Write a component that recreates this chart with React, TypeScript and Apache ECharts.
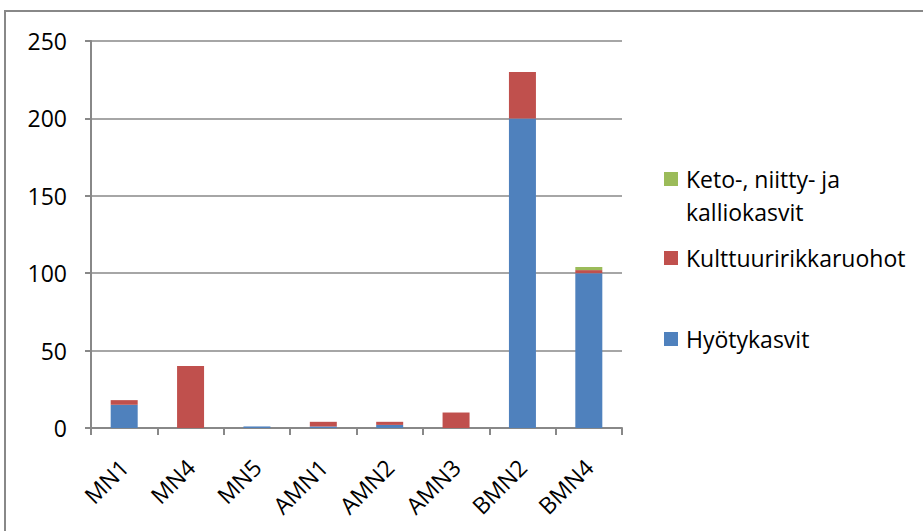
import React, { useEffect, useRef } from "react";
import * as echarts from "echarts";

const categories = ["MN1", "MN4", "MN5", "AMN1", "AMN2", "AMN3", "BMN2", "BMN4"];
const hyotykasvit = [15, 0, 1, 1, 2, 0, 200, 100];
const kulttuuri = [3, 40, 0, 3, 2, 10, 30, 2];
const keto = [0, 0, 0, 0, 0, 0, 0, 2];
const yTicks = { min: 0, max: 250, interval: 50 };

const NAME_H = "Hyötykasvit";
const NAME_K = "Kulttuuririkkaruohot";
const NAME_G = "Keto-, niitty- ja kalliokasvit";
const KETO_LINE1 = "Keto-, niitty- ja";
const KETO_LINE2 = "kalliokasvit";

const FONT = "Open Sans";
const GRAY = "#888888";

export default function App() {
  const ref = useRef<HTMLDivElement>(null);
  useEffect(() => {
    if (!ref.current) return;
    const chart = echarts.init(ref.current, null, { renderer: "svg" });
    const legendBase = {
      orient: "vertical" as const,
      left: 664,
      padding: 0,
      itemWidth: 14,
      itemHeight: 14,
      icon: "rect",
      textStyle: { fontFamily: FONT, fontSize: 23, color: "#000", padding: [0, 0, 0, 3] },
    };
    chart.setOption({
      animation: false,
      backgroundColor: "#ffffff",
      textStyle: { fontFamily: FONT },
      graphic: [
        {
          type: "rect",
          shape: { x: 5, y: 11, width: 1000, height: 1000 },
          style: { fill: "none", stroke: GRAY, lineWidth: 2 },
          silent: true,
        },
        {
          type: "text",
          x: 686,
          y: 212,
          silent: true,
          style: {
            text: KETO_LINE2,
            fontFamily: FONT,
            fontSize: 23,
            fill: "#000",
            align: "left",
            verticalAlign: "middle",
          },
        },
      ],
      grid: { left: 91, right: 301, top: 41, bottom: 103, containLabel: false },
      legend: [
        {
          ...legendBase,
          top: 167.5,
          data: [NAME_G],
          formatter: () => KETO_LINE1,
        },
        { ...legendBase, top: 246.5, data: [NAME_K] },
        { ...legendBase, top: 327.5, data: [NAME_H] },
      ],
      xAxis: {
        type: "category",
        data: categories,
        axisLine: { show: true, lineStyle: { color: GRAY, width: 2 } },
        axisTick: { show: true, length: 7, lineStyle: { color: GRAY, width: 2 } },
        axisLabel: {
          rotate: 45,
          margin: 35,
          fontFamily: FONT,
          fontSize: 23,
          color: "#000",
          interval: 0,
        },
      },
      yAxis: {
        type: "value",
        min: yTicks.min,
        max: yTicks.max,
        interval: yTicks.interval,
        axisLine: { show: true, lineStyle: { color: GRAY, width: 2 } },
        axisTick: { show: true, length: 6, lineStyle: { color: GRAY, width: 2 } },
        axisLabel: { margin: 24, fontFamily: FONT, fontSize: 23, color: "#000" },
        splitLine: { show: true, lineStyle: { color: GRAY, width: 1.5 } },
      },
      series: [
        {
          name: NAME_H,
          type: "bar",
          stack: "total",
          data: hyotykasvit,
          barWidth: 27,
          itemStyle: { color: "#4F81BD" },
        },
        {
          name: NAME_K,
          type: "bar",
          stack: "total",
          data: kulttuuri,
          barWidth: 27,
          itemStyle: { color: "#C0504D" },
        },
        {
          name: NAME_G,
          type: "bar",
          stack: "total",
          data: keto,
          barWidth: 27,
          itemStyle: { color: "#9BBB59" },
        },
      ],
    });
    return () => chart.dispose();
  }, []);
  return (
    <div
      ref={ref}
      style={{ position: "fixed", left: 0, top: 0, width: 923, height: 531, background: "#fff" }}
    />
  );
}
